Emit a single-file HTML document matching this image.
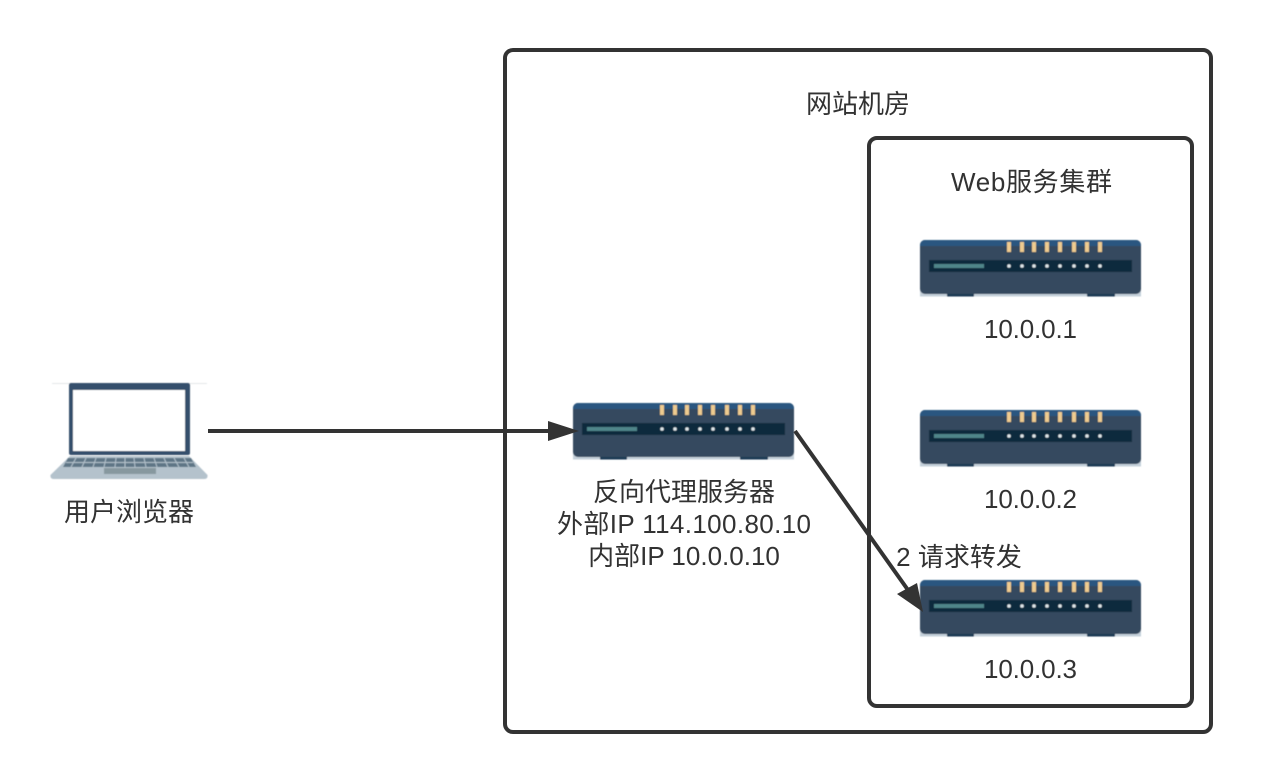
<!DOCTYPE html>
<html>
<head>
<meta charset="utf-8">
<style>
html,body{margin:0;padding:0;background:#fff;width:1261px;height:782px;overflow:hidden}
svg{display:block}
text{font-family:"Liberation Sans","Noto Sans CJK SC",sans-serif;font-size:26px;fill:#333;text-anchor:middle}
</style>
</head>
<body>
<svg width="1261" height="782" viewBox="0 0 1261 782" xmlns="http://www.w3.org/2000/svg">
<defs>
<filter id="b" x="-5%" y="-5%" width="110%" height="110%"><feGaussianBlur stdDeviation="0.6"/></filter>
<filter id="t" x="-5%" y="-5%" width="110%" height="110%"><feGaussianBlur stdDeviation="0.3"/></filter>
<g id="r" filter="url(#b)">
<rect x="0" y="50" width="221" height="6.500" fill="#c5d0da"/>
<rect x="27" y="52" width="27" height="4.500" fill="#1a3a55"/>
<rect x="167" y="52" width="28" height="4.500" fill="#1a3a55"/>
<rect x="0" y="0" width="221" height="54" rx="5" fill="#34495e"/>
<path d="M0 6V5a5 5 0 0 1 5-5h211a5 5 0 0 1 5 5v1z" fill="#2c5680"/>
<rect x="9" y="20" width="203" height="12" fill="#0b2c3d"/>
<rect x="14" y="24" width="50" height="4" fill="#4f8589"/>
<g fill="#eecb8f">
<rect x="87" y="2" width="4" height="10"/><rect x="100" y="2" width="4" height="10"/><rect x="112" y="2" width="4" height="10"/><rect x="125" y="2" width="4" height="10"/><rect x="138" y="2" width="4" height="10"/><rect x="152" y="2" width="4" height="10"/><rect x="165" y="2" width="4" height="10"/><rect x="178" y="2" width="4" height="10"/>
</g>
<g fill="#dfe6e9">
<circle cx="89" cy="26" r="1.800"/><circle cx="102" cy="26" r="1.800"/><circle cx="114" cy="26" r="1.800"/><circle cx="127" cy="26" r="1.800"/><circle cx="140" cy="26" r="1.800"/><circle cx="154" cy="26" r="1.800"/><circle cx="167" cy="26" r="1.800"/><circle cx="180" cy="26" r="1.800"/>
</g>
</g>
</defs>

<rect x="505" y="50" width="706" height="682" rx="8" fill="#fff" stroke="#333" stroke-width="4"/>
<rect x="869" y="138" width="323" height="568" rx="8" fill="#fff" stroke="#333" stroke-width="4"/>

<use href="#r" x="920" y="240"/>
<use href="#r" x="920" y="410"/>
<use href="#r" x="920" y="580"/>
<use href="#r" x="573" y="403"/>

<g filter="url(#b)">
<line x1="52" y1="383.500" x2="207" y2="383.500" stroke="#e4e8ea" stroke-width="1"/>
<rect x="69" y="383" width="121" height="72" rx="2" fill="#34506c"/>
<rect x="73" y="390" width="112" height="61" fill="#fff"/>
<path d="M70 456H189L207.500 475Q208 479 204 479H54Q50 479 50.500 475Z" fill="#b4c2cc"/>
<path d="M68 458H191L196 467H63Z" fill="#5f7686"/>
<g stroke="#b4c2cc" stroke-width="1">
<line x1="66" y1="462.500" x2="193" y2="462.500"/>
<line x1="76" y1="458" x2="71" y2="467"/><line x1="86" y1="458" x2="82" y2="467"/><line x1="96" y1="458" x2="93" y2="467"/><line x1="106" y1="458" x2="104" y2="467"/><line x1="116" y1="458" x2="115" y2="467"/><line x1="125" y1="458" x2="125" y2="467"/><line x1="134" y1="458" x2="135" y2="467"/><line x1="144" y1="458" x2="146" y2="467"/><line x1="154" y1="458" x2="157" y2="467"/><line x1="164" y1="458" x2="168" y2="467"/><line x1="174" y1="458" x2="179" y2="467"/><line x1="184" y1="458" x2="189" y2="467"/>
</g>
<rect x="104" y="468" width="52" height="6" fill="#87989f"/>
</g>

<line x1="208" y1="431" x2="552" y2="431" stroke="#333" stroke-width="4"/>
<polygon points="579,431 548,421 548,441" fill="#333"/>
<line x1="795" y1="431" x2="908" y2="590" stroke="#333" stroke-width="4"/>
<polygon points="923,612 897,594 917,583" fill="#333"/>

<g filter="url(#t)">
<text x="858" y="113">网站机房</text>
<text x="1031.500" y="191" textLength="161">Web服务集群</text>
<text x="1030.500" y="338" textLength="93">10.0.0.1</text>
<text x="1030.500" y="508" textLength="93">10.0.0.2</text>
<text x="1030.500" y="678" textLength="93">10.0.0.3</text>
<text x="129" y="521">用户浏览器</text>
<text x="684" y="501">反向代理服务器</text>
<text x="684" y="533" textLength="254">外部IP 114.100.80.10</text>
<text x="684" y="565">内部IP 10.0.0.10</text>
<text x="959" y="566">2 请求转发</text>
</g>
</svg>
</body>
</html>
